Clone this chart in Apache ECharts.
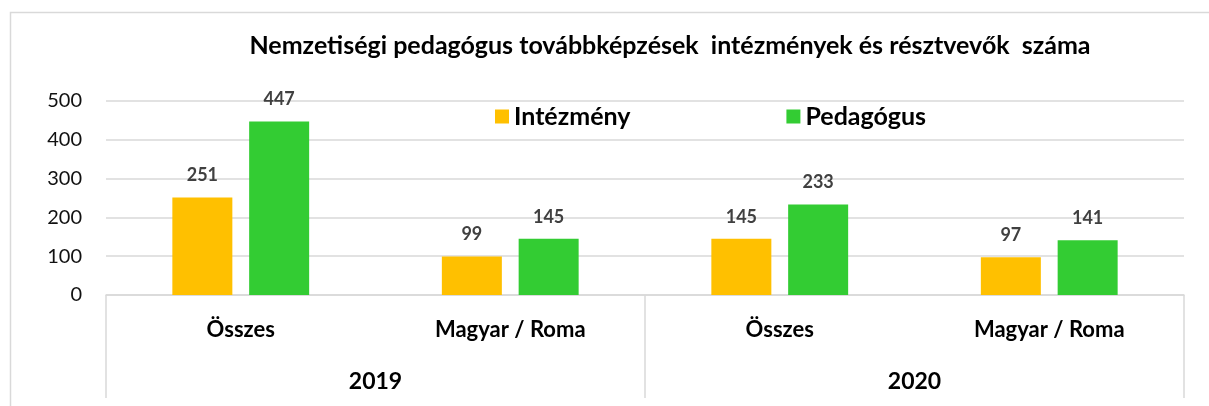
<!DOCTYPE html>
<html>
<head>
<meta charset="utf-8">
<script src="https://cdn.jsdelivr.net/npm/echarts@6/dist/echarts.min.js"></script>
<style>
  html, body { margin: 0; padding: 0; background: #fff; }
  #chart { width: 1209px; height: 406px; }
</style>
</head>
<body>
<div id="chart"></div>
<script>
  // adatok
  const categories = ['Összes', 'Magyar / Roma', 'Összes', 'Magyar / Roma'];
  const years = ['2019', '2020'];
  const intezmeny = [251, 99, 145, 97];
  const pedagogus = [447, 145, 233, 141];
  const yTicks = { min: 0, max: 500, interval: 100 };

  const font = 'Lato, "Open Sans", sans-serif';
  const myChart = echarts.init(document.getElementById('chart'));

  const option = {
    animation: false,
    textStyle: { fontFamily: font },
    title: {
      text: 'Nemzetiségi pedagógus továbbképzések  intézmények és résztvevők  száma',
      left: 665,
      textAlign: 'center',
      top: 28,
      textStyle: { fontSize: 25, fontWeight: 'bold', color: '#000', fontFamily: font },
    },
    graphic: [
      {
        type: 'rect',
        shape: { x: 10.5, y: 12.5, width: 1210, height: 420 },
        style: { fill: 'none', stroke: '#d9d9d9', lineWidth: 1.5 },
        silent: true,
      },
    ],
    legend: {
      left: 490,
      top: 99,
      itemWidth: 14,
      itemHeight: 14,
      itemGap: 156,
      icon: 'rect',
      textStyle: { fontSize: 25, fontWeight: 'bold', color: '#000', fontFamily: font },
      data: ['Intézmény', 'Pedagógus'],
    },
    grid: {
      left: 106,
      right: 25,
      top: 101,
      bottom: 111,
      containLabel: false,
    },
    xAxis: [
      {
        type: 'category',
        data: categories,
        axisLine: { show: true, lineStyle: { color: '#d9d9d9', width: 1.5 } },
        axisTick: { show: false },
        axisLabel: { margin: 24, fontSize: 22, fontWeight: 'bold', color: '#000', interval: 0 },
        splitLine: { show: false },
      },
      {
        type: 'category',
        data: years,
        position: 'bottom',
        axisLine: { show: false },
        axisTick: { show: true, length: 103, interval: 0, lineStyle: { color: '#d9d9d9', width: 1.5 } },
        axisLabel: { margin: 75, fontSize: 23, fontWeight: 'bold', color: '#000', interval: 0 },
        splitLine: { show: false },
      },
    ],
    yAxis: {
      type: 'value',
      min: yTicks.min,
      max: yTicks.max,
      interval: yTicks.interval,
      axisLine: { show: false },
      axisTick: { show: false },
      axisLabel: { margin: 24, fontSize: 20, color: '#111' },
      splitLine: { show: true, lineStyle: { color: '#d9d9d9', width: 1.5 } },
    },
    series: [
      {
        name: 'Intézmény',
        type: 'bar',
        data: intezmeny,
        barWidth: 60,
        barGap: '28%',
        itemStyle: { color: '#FFC000' },
        label: { show: true, position: 'top', distance: 13, fontSize: 18, fontWeight: 'bold', color: '#404040' },
      },
      {
        name: 'Pedagógus',
        type: 'bar',
        data: pedagogus,
        barWidth: 60,
        barGap: '28%',
        itemStyle: { color: '#33CC33' },
        label: { show: true, position: 'top', distance: 13, fontSize: 18, fontWeight: 'bold', color: '#404040' },
      },
    ],
  };

  option && myChart.setOption(option);
</script>
</body>
</html>
